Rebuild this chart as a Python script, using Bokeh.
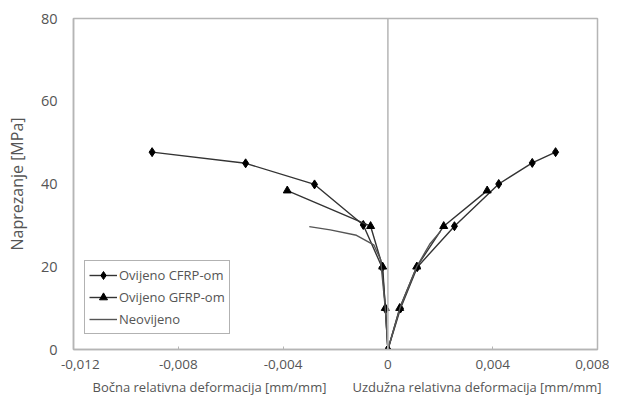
from bokeh.plotting import figure
from bokeh.models import FixedTicker, Span, Legend, LegendItem, Range1d, Title
from bokeh.embed import file_html
from bokeh.resources import INLINE

# Ovijeno CFRP-om (lateral branch x<0, longitudinal x>0)
cfrp_lat_x = [0.0, -0.00009, -0.00022, -0.00094, -0.0028, -0.00543, -0.0090]
cfrp_lat_y = [0.0, 9.8, 19.8, 30.1, 39.9, 45.0, 47.7]
cfrp_lon_x = [0.0, 0.00048, 0.00112, 0.00254, 0.00423, 0.00551, 0.0064]
cfrp_lon_y = [0.0, 9.9, 19.9, 29.8, 40.0, 45.1, 47.7]

# Ovijeno GFRP-om
gfrp_lat_x = [0.0, -0.0001, -0.0002, -0.00066, -0.00384]
gfrp_lat_y = [0.0, 10.0, 20.0, 29.8, 38.4]
gfrp_lon_x = [0.0, 0.00045, 0.0011, 0.00213, 0.00379]
gfrp_lon_y = [0.0, 10.0, 20.0, 29.8, 38.4]

# Neovijeno
neo_lat_x = [0.0, -0.0001, -0.00028, -0.00054, -0.0012, -0.0022, -0.0030]
neo_lat_y = [0.0, 10.0, 21.8, 25.3, 27.6, 28.9, 29.7]
neo_lon_x = [0.0, 0.00046, 0.0011, 0.0016, 0.0020]
neo_lon_y = [0.0, 10.0, 20.0, 25.5, 28.5]

x_ticks = [-0.012, -0.008, -0.004, 0.0, 0.004, 0.008]
x_tick_labels = ["\u2003-0,012", "-0,008", "-0,004", "0", "0,004", "0,008"]
y_ticks = [0, 20, 40, 60, 80]
x_label_left = "Bočna relativna deformacija [mm/mm]"
x_label_right = "Uzdužna relativna deformacija [mm/mm]"

FONT = "Open Sans"
TXT = "#555555"
GRID = "#b5b5b5"

p = figure(width=609, height=395, output_backend="svg", toolbar_location=None,
           x_range=Range1d(-0.012, 0.008), y_range=Range1d(0, 80),
           min_border_left=73, min_border_right=12, min_border_top=18, min_border_bottom=40)
p.xgrid.visible = False
p.ygrid.visible = False
p.outline_line_color = GRID
p.outline_line_width = 1.5

p.xaxis.ticker = FixedTicker(ticks=x_ticks)
p.xaxis.major_label_overrides = {t: l for t, l in zip(x_ticks, x_tick_labels)}
p.yaxis.ticker = FixedTicker(ticks=y_ticks)
for ax in (p.xaxis[0], p.yaxis[0]):
    ax.axis_line_color = GRID
    ax.axis_line_width = 1.5
    ax.major_label_text_font = FONT
    ax.major_label_text_color = TXT
    ax.minor_tick_line_color = None
p.xaxis.major_label_text_font_size = "13.5px"
p.xaxis.major_label_text_line_height = 0.9
p.yaxis.major_label_text_font_size = "14.5px"
p.xaxis.major_tick_line_color = GRID
p.xaxis.major_tick_in = 3
p.xaxis.major_tick_out = 0
p.xaxis.major_label_standoff = 5
p.yaxis.major_tick_line_color = None
p.yaxis.major_label_standoff = 10
p.yaxis.axis_label = "Naprezanje [MPa]"
p.yaxis.axis_label_text_font = FONT
p.yaxis.axis_label_text_font_style = "normal"
p.yaxis.axis_label_text_font_size = "16px"
p.yaxis.axis_label_text_color = TXT
p.yaxis.axis_label_standoff = 10

p.add_layout(Span(location=0, dimension="height", line_color=GRID, line_width=1.5))

LC = "#333333"
c1 = p.line(cfrp_lat_x, cfrp_lat_y, line_color=LC, line_width=1.4)
p.line(cfrp_lon_x, cfrp_lon_y, line_color=LC, line_width=1.4)
c1m = p.scatter(cfrp_lat_x, cfrp_lat_y, marker="diamond", size=9, color="black")
p.scatter(cfrp_lon_x, cfrp_lon_y, marker="diamond", size=9, color="black")

g1 = p.line(gfrp_lat_x, gfrp_lat_y, line_color=LC, line_width=1.4)
p.line(gfrp_lon_x, gfrp_lon_y, line_color=LC, line_width=1.4)
g1m = p.scatter(gfrp_lat_x, gfrp_lat_y, marker="triangle", size=8, color="black")
p.scatter(gfrp_lon_x, gfrp_lon_y, marker="triangle", size=8, color="black")

n1 = p.line(neo_lat_x, neo_lat_y, line_color="#555555", line_width=1.4)
p.line(neo_lon_x, neo_lon_y, line_color="#555555", line_width=1.4)

legend = Legend(items=[
    LegendItem(label="Ovijeno CFRP-om", renderers=[c1, c1m]),
    LegendItem(label="Ovijeno GFRP-om", renderers=[g1, g1m]),
    LegendItem(label="Neovijeno", renderers=[n1]),
], location=(11, 15))
legend.label_text_font = FONT
legend.label_text_font_size = "13px"
legend.label_text_color = TXT
legend.border_line_color = "#666666"
legend.border_line_width = 1.2
legend.glyph_width = 28
legend.spacing = 2
legend.padding = 4
legend.margin = 0
legend.label_standoff = 2
legend.background_fill_alpha = 1
p.add_layout(legend, "center")

gap = "\u2003\u2003"
p.add_layout(Title(text=x_label_left + gap + x_label_right, align="left", offset=19,
                   text_font=FONT, text_font_size="13px", text_font_style="normal",
                   text_line_height=0.9, text_color=TXT, standoff=0), "below")

open("out.html", "w").write(file_html(p, INLINE))
